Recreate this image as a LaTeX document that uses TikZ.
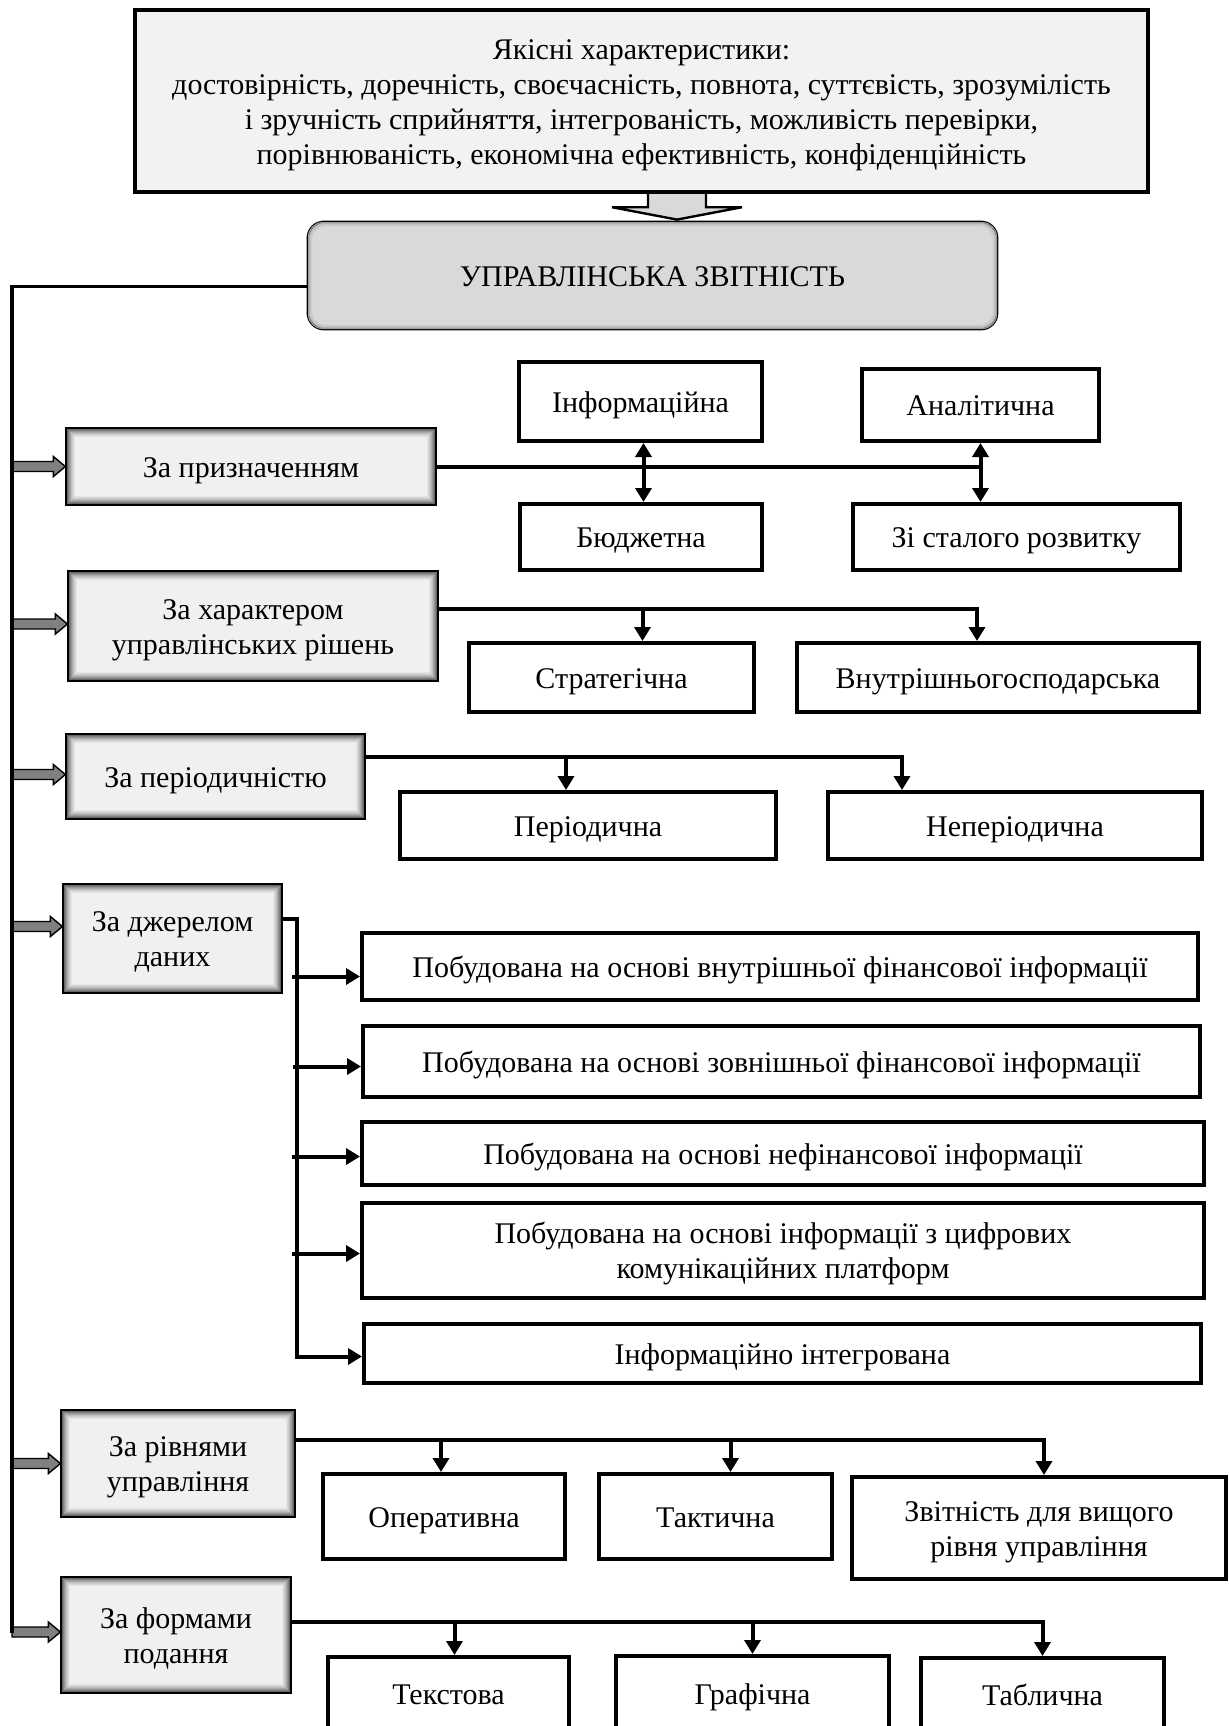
\documentclass[tikz,border=0pt]{standalone}
\usepackage{fontspec}
\setmainfont{Liberation Serif}
\usetikzlibrary{calc,arrows.meta}
\newcommand\topstrut{\vrule width 0pt height 15pt depth 0pt\relax}
\newcommand\botstrut{\vrule width 0pt height 0pt depth 4.5pt\relax}
\tikzset{
  every node/.style={font=\fontsize{15}{17.5}\selectfont},
  wbox/.style={draw=black, line width=2pt, fill=white, inner sep=0pt, align=center},
  cbox/.style={draw=black, line width=1.6pt, fill=black!6, inner sep=0pt, align=center},
  topbox/.style={draw=black, line width=2.2pt, fill=black!5, inner sep=0pt, align=center},
  mainbox/.style={draw=black, line width=1.4pt, fill=black!15, rounded corners=8pt, inner sep=0pt, align=center},
  conn/.style={line width=2pt},
  arr/.style={line width=2pt, -{Triangle[length=7pt,width=8pt]}},
  darr/.style={line width=2pt, {Triangle[length=7pt,width=8pt]}-{Triangle[length=7pt,width=8pt]}},
  garr/.style={fill=black!50, draw=black, line width=0.7pt, line join=miter},
  bigarr/.style={fill=black!15, draw=black, line width=1.2pt, line join=miter},
}
\newcommand\bx[7]{\node[#2, minimum width={(#5-#3)*0.5pt}, minimum height={(#6-#4)*0.5pt}] (#1) at ({(#3+#5)/2},{(#4+#6)/2}) {\topstrut #7\botstrut};}
\newcommand\shadeit[1]{\foreach \ii/\cc in {2/60,3/50,4/41,5/33,6/26,7/20,8/15,9/10}{\draw[black!\cc, line width=0.6pt] ($(#1.north west)+(\ii,\ii)$) rectangle ($(#1.south east)+(-\ii,-\ii)$);}}
\newcommand\grarrow[1]{\filldraw[garr] ($(spine|-#1)+(0,-5)$) -- ($(#1)+(-12,-5)$) -- ($(#1)+(-12,-10)$) -- (#1) -- ($(#1)+(-12,10)$) -- ($(#1)+(-12,5)$) -- ($(spine|-#1)+(0,5)$) -- cycle;}
\begin{document}
\begin{tikzpicture}[x=0.5pt, y=-0.5pt]
\useasboundingbox (0,0) rectangle (1228,1726);
% top and main
\bx{top}{topbox}{135}{10}{1148}{192}{Якісні характеристики:\\достовірність, доречність, своєчасність, повнота, суттєвість, зрозумілість\\і зручність сприйняття, інтегрованість, можливість перевірки,\\порівнюваність, економічна ефективність, конфіденційність}
\bx{main}{mainbox}{308}{222}{997}{329}{УПРАВЛІНСЬКА ЗВІТНІСТЬ}
\foreach \ii/\cc in {2/40,3/30,4/24,5/20}{\draw[black!\cc, line width=0.6pt, rounded corners=7pt] ($(main.north west)+(\ii,\ii)$) rectangle ($(main.south east)+(-\ii,-\ii)$);}
\coordinate (ba) at ($(top.south)+(35.5,0)$);
\filldraw[bigarr] ($(ba)+(-29,0)$) -- ($(ba)+(-29,13)$) -- ($(ba)+(-65,13)$) -- ($(main.north -| ba)+(0,-1)$) -- ($(ba)+(65,13)$) -- ($(ba)+(29,13)$) -- ($(ba)+(29,0)$);
% category boxes
\bx{c1}{cbox}{67}{429}{435}{504}{За призначенням}
\bx{c2}{cbox}{69}{572}{437}{680}{За характером\\управлінських рішень}
\bx{c3}{cbox}{67}{735}{364}{818}{За періодичністю}
\bx{c4}{cbox}{64}{885}{281}{992}{За джерелом\\даних}
\bx{c5}{cbox}{62}{1411}{294}{1516}{За рівнями\\управління}
\bx{c6}{cbox}{62}{1578}{290}{1692}{За формами\\подання}
\foreach \n in {c1,c2,c3,c4,c5,c6}{\shadeit{\n}}
% group 1
\bx{info}{wbox}{519}{362}{762}{441}{Інформаційна}
\bx{budg}{wbox}{520}{504}{762}{570}{Бюджетна}
\bx{anal}{wbox}{862}{369}{1099}{441}{Аналітична}
\bx{stal}{wbox}{853}{504}{1180}{570}{Зі сталого розвитку}
% group 2
\bx{strat}{wbox}{469}{643}{754}{712}{Стратегічна}
\bx{vnut}{wbox}{797}{643}{1199}{712}{Внутрішньогосподарська}
% group 3
\bx{period}{wbox}{400}{792}{776}{859}{Періодична}
\bx{neper}{wbox}{828}{792}{1202}{859}{Неперіодична}
% group 4
\bx{b1}{wbox}{362}{933}{1198}{1000}{Побудована на основі внутрішньої фінансової інформації}
\bx{b2}{wbox}{363}{1026}{1200}{1097}{Побудована на основі зовнішньої фінансової інформації}
\bx{b3}{wbox}{362}{1122}{1204}{1185}{Побудована на основі нефінансової інформації}
\bx{b4}{wbox}{362}{1203}{1204}{1298}{Побудована на основі інформації з цифрових\\комунікаційних платформ}
\bx{b5}{wbox}{364}{1324}{1201}{1383}{Інформаційно інтегрована}
% group 5
\bx{oper}{wbox}{323}{1474}{565}{1559}{Оперативна}
\bx{takt}{wbox}{599}{1474}{832}{1559}{Тактична}
\bx{vysh}{wbox}{852}{1477}{1226}{1579}{Звітність для вищого\\рівня управління}
% group 6
\bx{tekst}{wbox}{328}{1657}{569}{1731}{Текстова}
\bx{hraf}{wbox}{616}{1656}{889}{1731}{Графічна}
\bx{tabl}{wbox}{921}{1658}{1164}{1731}{Таблична}
% spine and gray arrows
\coordinate (spine) at (12,286);
\coordinate (a1) at (c1.west);
\coordinate (a2) at ($(c2.west)+(0,-2)$);
\coordinate (a3) at ($(c3.west)+(0,-2)$);
\coordinate (a4) at ($(c4.west)+(0,-12)$);
\coordinate (a5) at (c5.west);
\coordinate (a6) at ($(c6.west)+(0,-3)$);
\foreach \a in {a1,a2,a3,a4,a5,a6}{\grarrow{\a}}
\draw[line width=1.6pt] ($(main.west)+(0,11)$) -| ($(spine|-a6)+(0,0.8)$);
% group 1 connectors
\draw[conn] (c1.east) -- (c1.east -| anal.south);
\draw[darr] ($(info.south)+(3,0)$) -- ($(info.south |- budg.north)+(3,0)$);
\draw[darr] (anal.south) -- (anal.south |- stal.north);
% group 2
\coordinate (h2) at ($(c2.east)+(0,-17)$);
\draw[arr] (h2) -| ($(vnut.north)+(-21,0)$);
\draw[arr] ($(h2 -| strat.north)+(31,0)$) -- ($(strat.north)+(31,0)$);
% group 3
\coordinate (h3) at ($(c3.east)+(0,-20)$);
\draw[arr] (h3) -| ($(neper.north)+(-113,0)$);
\draw[arr] ($(h3 -| period.north)+(-22,0)$) -- ($(period.north)+(-22,0)$);
% group 4
\draw[arr] ($(c4.east)+(0,-20)$) -| ($(b5.west)+(-65,3)$) -- ($(b5.west)+(0,3)$);
\foreach \b/\o in {b1/10,b2/5,b3/3,b4/3}{\draw[arr] ($(\b.west)+(-68,\o)$) -- ($(\b.west)+(0,\o)$);}
% group 5
\coordinate (h5) at ($(c5.east)+(0,-24)$);
\draw[arr] (h5) -| ($(vysh.north)+(5,0)$);
\draw[arr] ($(h5 -| oper.north)+(-3,0)$) -- ($(oper.north)+(-3,0)$);
\draw[arr] ($(h5 -| takt.north)+(15,0)$) -- ($(takt.north)+(15,0)$);
% group 6
\coordinate (h6) at ($(c6.east)+(0,-13)$);
\draw[arr] (h6) -| (tabl.north);
\draw[arr] ($(h6 -| tekst.north)+(6,0)$) -- ($(tekst.north)+(6,0)$);
\draw[arr] (h6 -| hraf.north) -- (hraf.north);
\end{tikzpicture}
\end{document}
